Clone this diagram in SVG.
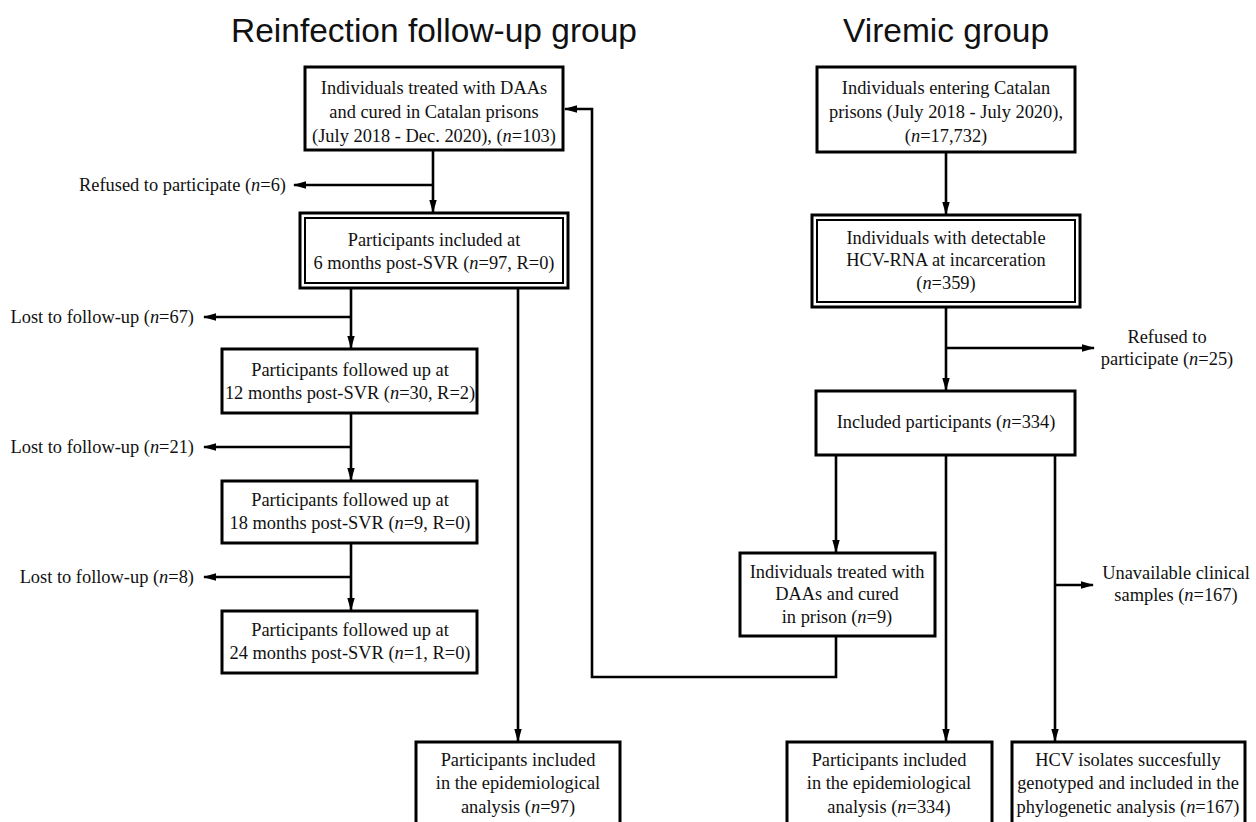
<svg xmlns="http://www.w3.org/2000/svg" width="1256" height="822" viewBox="0 0 1256 822">
<style>
.box{fill:#fff;stroke:#000;stroke-width:3}
.inner{fill:none;stroke:#000;stroke-width:2}
.t{font-family:"Liberation Serif","Times New Roman",serif;font-size:18.4px;fill:#111;text-anchor:middle}
.e{text-anchor:end}
.title{font-family:"Liberation Sans",Arial,sans-serif;font-size:33.5px;fill:#111;text-anchor:middle}
.c{fill:none;stroke:#000;stroke-width:2.6}
.a{marker-end:url(#ah)}
</style>
<defs>
<marker id="ah" markerUnits="userSpaceOnUse" markerWidth="14" markerHeight="10" refX="12" refY="5" orient="auto">
<path d="M0,1.3 L13,5 L0,8.7 Z" fill="#000"/>
</marker>
</defs>
<rect width="1256" height="822" fill="#fff"/>
<text class="title" x="434" y="42">Reinfection follow-up group</text>
<text class="title" x="946" y="42">Viremic group</text>

<g id="connectors">
<path class="c a" d="M433,150 V212"/>
<path class="c a" d="M433,185 H294"/>
<path class="c a" d="M351,288 V348"/>
<path class="c a" d="M351,317 H204"/>
<path class="c a" d="M351,413 V480"/>
<path class="c a" d="M351,447 H204"/>
<path class="c a" d="M351,543 V610"/>
<path class="c a" d="M351,577 H204"/>
<path class="c a" d="M518,288 V741"/>
<path class="c a" d="M946,152 V214"/>
<path class="c a" d="M946,307 V390"/>
<path class="c a" d="M946,348 H1094"/>
<path class="c a" d="M836,455 V552"/>
<path class="c a" d="M946,455 V741"/>
<path class="c a" d="M1055,455 V741"/>
<path class="c a" d="M1055,585 H1093"/>
<path class="c a" d="M836,636 V677 H592 V109 H565"/>
</g>

<g id="n_treated">
<rect class="box" x="305" y="67" width="258" height="83"/>
<text class="t" x="434" y="94">Individuals treated with DAAs</text>
<text class="t" x="434" y="118">and cured in Catalan prisons</text>
<text class="t" x="434" y="142">(July 2018 - Dec. 2020), (<tspan font-style="italic">n</tspan>=103)</text>
</g>
<g id="n_refused6">
<text class="t e" x="286" y="191">Refused to participate (<tspan font-style="italic">n</tspan>=6)</text>
</g>
<g id="n_6m">
<rect class="box" x="300" y="213" width="268" height="75"/>
<rect class="inner" x="305" y="218" width="258" height="65"/>
<text class="t" x="434" y="246">Participants included at</text>
<text class="t" x="434" y="269">6 months post-SVR (<tspan font-style="italic">n</tspan>=97, R=0)</text>
</g>
<g id="n_lost67">
<text class="t e" x="194" y="323">Lost to follow-up (<tspan font-style="italic">n</tspan>=67)</text>
</g>
<g id="n_12m">
<rect class="box" x="222" y="349" width="255" height="64"/>
<text class="t" x="350" y="376">Participants followed up at</text>
<text class="t" x="350" y="399">12 months post-SVR (<tspan font-style="italic">n</tspan>=30, R=2)</text>
</g>
<g id="n_lost21">
<text class="t e" x="194" y="453">Lost to follow-up (<tspan font-style="italic">n</tspan>=21)</text>
</g>
<g id="n_18m">
<rect class="box" x="222" y="481" width="255" height="62"/>
<text class="t" x="350" y="506">Participants followed up at</text>
<text class="t" x="350" y="529">18 months post-SVR (<tspan font-style="italic">n</tspan>=9, R=0)</text>
</g>
<g id="n_lost8">
<text class="t e" x="194" y="583">Lost to follow-up (<tspan font-style="italic">n</tspan>=8)</text>
</g>
<g id="n_24m">
<rect class="box" x="222" y="611" width="255" height="62"/>
<text class="t" x="350" y="636">Participants followed up at</text>
<text class="t" x="350" y="659">24 months post-SVR (<tspan font-style="italic">n</tspan>=1, R=0)</text>
</g>
<g id="n_epi97">
<rect class="box" x="416" y="742" width="204" height="90"/>
<text class="t" x="518" y="766">Participants included</text>
<text class="t" x="518" y="789">in the epidemiological</text>
<text class="t" x="518" y="813">analysis (<tspan font-style="italic">n</tspan>=97)</text>
</g>

<g id="n_entering">
<rect class="box" x="817" y="67" width="258" height="85"/>
<text class="t" x="946" y="94">Individuals entering Catalan</text>
<text class="t" x="946" y="118">prisons (July 2018 - July 2020),</text>
<text class="t" x="946" y="142">(<tspan font-style="italic">n</tspan>=17,732)</text>
</g>
<g id="n_detect">
<rect class="box" x="812" y="215" width="268" height="92"/>
<rect class="inner" x="817" y="220" width="258" height="82"/>
<text class="t" x="946" y="244">Individuals with detectable</text>
<text class="t" x="946" y="266">HCV-RNA at incarceration</text>
<text class="t" x="946" y="289">(<tspan font-style="italic">n</tspan>=359)</text>
</g>
<g id="n_refused25">
<text class="t" x="1167" y="343">Refused to</text>
<text class="t" x="1167" y="365">participate (<tspan font-style="italic">n</tspan>=25)</text>
</g>
<g id="n_included">
<rect class="box" x="816" y="391" width="259" height="64"/>
<text class="t" x="946" y="428">Included participants (<tspan font-style="italic">n</tspan>=334)</text>
</g>
<g id="n_cured9">
<rect class="box" x="740" y="553" width="195" height="83"/>
<text class="t" x="837" y="578">Individuals treated with</text>
<text class="t" x="837" y="600">DAAs and cured</text>
<text class="t" x="837" y="623">in prison (<tspan font-style="italic">n</tspan>=9)</text>
</g>
<g id="n_unavail">
<text class="t" x="1176" y="579">Unavailable clinical</text>
<text class="t" x="1176" y="601">samples (<tspan font-style="italic">n</tspan>=167)</text>
</g>
<g id="n_epi334">
<rect class="box" x="787" y="742" width="205" height="90"/>
<text class="t" x="889" y="766">Participants included</text>
<text class="t" x="889" y="789">in the epidemiological</text>
<text class="t" x="889" y="813">analysis (<tspan font-style="italic">n</tspan>=334)</text>
</g>
<g id="n_phylo">
<rect class="box" x="1012" y="742" width="233" height="90"/>
<text class="t" x="1128" y="766">HCV isolates succesfully</text>
<text class="t" x="1128" y="789">genotyped and included in the</text>
<text class="t" x="1128" y="813">phylogenetic analysis (<tspan font-style="italic">n</tspan>=167)</text>
</g>
</svg>
